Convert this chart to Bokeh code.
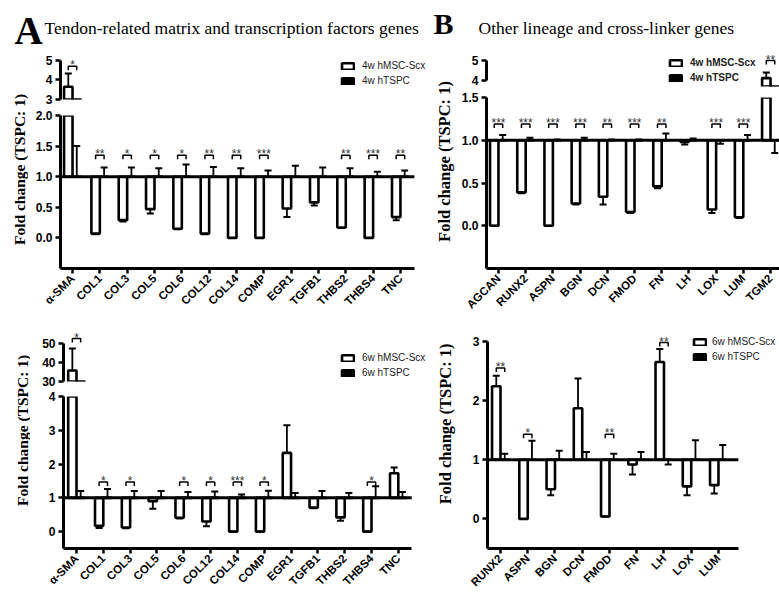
import math
from bokeh.plotting import figure
from bokeh.layouts import row, column
from bokeh.models import (ColumnDataSource, Range1d, FixedTicker, Legend,
                          LegendItem, NumeralTickFormatter)
from bokeh.transform import dodge
from bokeh.core.properties import value
from bokeh.embed import file_html
from bokeh.resources import INLINE

# ---------------- data ----------------
A_genes = ["α-SMA", "COL1", "COL3", "COL5", "COL6", "COL12", "COL14", "COMP",
           "EGR1", "TGFB1", "THBS2", "THBS4", "TNC"]

# 4 weeks, panel A
A4_scx = [3.65, 0.07, 0.29, 0.47, 0.15, 0.07, 0.0, 0.0, 0.48, 0.58, 0.17, 0.0, 0.34]
A4_scx_err = [0.68, 0.01, 0.02, 0.07, 0.01, 0.01, 0.0, 0.0, 0.14, 0.05, 0.01, 0.0, 0.05]
A4_tspc = [1.0, 1.0, 1.0, 1.0, 1.0, 1.0, 1.0, 1.0, 1.0, 1.0, 1.0, 1.0, 1.0]
A4_tspc_err = [0.5, 0.15, 0.15, 0.14, 0.2, 0.16, 0.14, 0.1, 0.18, 0.15, 0.14, 0.08, 0.1]
A4_sig = ["*", "**", "*", "*", "*", "**", "**", "***", "", "", "**", "***", "**"]
A4_sig_y = [4.7, 1.35, 1.35, 1.35, 1.35, 1.35, 1.35, 1.35, None, None, 1.35, 1.35, 1.35]

# 6 weeks, panel A
A6_scx = [35.8, 0.17, 0.12, 0.9, 0.41, 0.3, 0.0, 0.0, 2.33, 0.71, 0.42, 0.0, 1.73]
A6_scx_err = [11.6, 0.06, 0.02, 0.22, 0.02, 0.14, 0.0, 0.0, 0.82, 0.02, 0.1, 0.0, 0.17]
A6_tspc = [1.0, 1.0, 1.0, 1.0, 1.0, 1.0, 1.0, 1.0, 1.0, 1.0, 1.0, 1.0, 1.0]
A6_tspc_err = [0.2, 0.26, 0.2, 0.2, 0.17, 0.19, 0.1, 0.21, 0.14, 0.2, 0.14, 0.34, 0.17]
A6_sig = ["*", "*", "*", "", "*", "*", "***", "*", "", "", "", "*", ""]
A6_sig_y = [52.6, 1.47, 1.47, None, 1.47, 1.47, 1.47, 1.47, None, None, None, 1.47, None]

# 4 weeks, panel B
B4_genes = ["AGCAN", "RUNX2", "ASPN", "BGN", "DCN", "FMOD", "FN", "LH", "LOX", "LUM", "TGM2"]
B4_scx = [0.0, 0.39, 0.0, 0.26, 0.34, 0.16, 0.46, 0.98, 0.19, 0.1, 4.12]
B4_scx_err = [0.0, 0.01, 0.0, 0.01, 0.09, 0.01, 0.02, 0.03, 0.04, 0.01, 0.28]
B4_tspc = [1.0, 1.0, 1.0, 1.0, 1.0, 1.0, 1.0, 1.0, 1.0, 1.0, 1.0]
B4_tspc_err = [0.06, 0.03, 0.01, 0.03, 0.01, 0.01, 0.08, 0.02, -0.04, 0.06, -0.15]
B4_sig = ["***", "***", "***", "***", "**", "***", "**", "", "***", "***", "**"]
B4_sig_y = [1.19, 1.19, 1.19, 1.19, 1.19, 1.19, 1.19, None, 1.19, 1.19, 5.0]

# 6 weeks, panel B
B6_genes = ["RUNX2", "ASPN", "BGN", "DCN", "FMOD", "FN", "LH", "LOX", "LUM"]
B6_scx = [2.24, 0.0, 0.5, 1.87, 0.04, 0.92, 2.65, 0.55, 0.57]
B6_scx_err = [0.18, 0.0, 0.1, 0.5, 0.0, 0.17, 0.22, 0.15, 0.14]
B6_tspc = [1.0, 1.0, 1.0, 1.0, 1.0, 1.0, 1.0, 1.0, 1.0]
B6_tspc_err = [0.1, 0.32, 0.15, 0.13, 0.1, 0.13, -0.08, 0.33, 0.25]
B6_sig = ["**", "*", "", "", "**", "", "**", "", ""]
B6_sig_y = [2.55, 1.43, None, None, 1.43, None, 2.98, None, None]

# ---------------- style helpers ----------------
BW = 0.31
SANS = "Liberation Sans"
SERIF = "Liberation Serif"


def base_fig(width, height, xr, yr, borders, xaxis):
    l, r, t, b = borders
    p = figure(width=width, height=height, x_range=Range1d(*xr), y_range=Range1d(*yr),
               toolbar_location=None, output_backend="svg",
               x_axis_location="below" if xaxis else None, title=None)
    p.min_border_left = l
    p.min_border_right = r
    p.min_border_top = t
    p.min_border_bottom = b
    p.outline_line_color = None
    p.grid.visible = False
    p.background_fill_color = "white"
    p.border_fill_color = "white"
    return p


def style_axis(ax, size):
    ax.axis_line_width = 3
    ax.axis_line_color = "black"
    ax.major_tick_line_width = 2.5
    ax.major_tick_line_color = "black"
    ax.major_tick_out = 5
    ax.major_tick_in = 0
    ax.minor_tick_line_color = None
    ax.major_label_text_font = SANS
    ax.major_label_text_font_style = "bold"
    ax.major_label_text_font_size = size
    ax.major_label_text_color = "black"
    ax.major_label_standoff = 3


def setup_xaxis(p, genes, bounds):
    ax = p.xaxis[0]
    ax.ticker = FixedTicker(ticks=list(range(len(genes))))
    ax.major_label_overrides = {i: g for i, g in enumerate(genes)}
    ax.major_label_orientation = math.pi / 4
    ax.bounds = bounds
    style_axis(ax, "11.5px")
    ax.major_label_standoff = 3


def setup_yaxis(p, ticks, fmt=None, bounds=None):
    ax = p.yaxis[0]
    ax.ticker = FixedTicker(ticks=ticks)
    if fmt:
        ax.formatter = NumeralTickFormatter(format=fmt)
    if bounds:
        ax.bounds = bounds
    style_axis(ax, "12px")


def draw_series(p, genes, scx, scx_err, tspc, tspc_err, sig, sig_y, ppu, lo, hi,
                baseline=None):
    n = len(genes)
    scx_end = [v - e if v < 1 else v + e for v, e in zip(scx, scx_err)]
    tspc_end = [t + e for t, e in zip(tspc, tspc_err)]
    keep = [i for i in range(n) if max(scx[i], scx_end[i], tspc_end[i]) > lo]
    src = ColumnDataSource(dict(x=keep,
                                scx=[scx[i] for i in keep],
                                scx_end=[scx_end[i] for i in keep],
                                tspc=[tspc[i] for i in keep],
                                tspc_end=[tspc_end[i] for i in keep]))
    xa = dodge("x", -BW / 2)
    xb = dodge("x", BW / 2)
    r1 = p.vbar(x=xa, width=BW, bottom=1, top="scx", source=src,
                fill_color="white", line_color="black", line_width=2.6)
    r2 = p.vbar(x=xb, width=BW, bottom=1, top="tspc", source=src,
                fill_color="black", line_color="black", line_width=2.6)
    p.segment(x0=xa, y0="scx", x1=xa, y1="scx_end", source=src,
              line_color="black", line_width=1.8)
    p.scatter(x=xa, y="scx_end", source=src, marker="dash", size=7,
              line_color="black", line_width=2)
    p.segment(x0=xb, y0="tspc", x1=xb, y1="tspc_end", source=src,
              line_color="black", line_width=1.8)
    p.scatter(x=xb, y="tspc_end", source=src, marker="dash", size=7,
              line_color="black", line_width=2)
    if baseline is not None:
        p.segment(x0=[baseline[0]], y0=[1], x1=[baseline[1]], y1=[1],
                  line_color="black", line_width=3)
    # significance brackets
    bx = [i for i, s in enumerate(sig) if s and lo < sig_y[i] < hi]
    if bx:
        by = [sig_y[i] for i in bx]
        d = 4.0 / ppu
        xs = [[i - BW / 2, i - BW / 2, i + BW / 2, i + BW / 2] for i in bx]
        ys = [[h - d, h, h, h - d] for h in by]
        p.multi_line(xs=xs, ys=ys, line_color="black", line_width=1.5)
        p.text(x=bx, y=by, text=[sig[i] for i in bx], text_align="center",
               text_baseline="bottom", y_offset=6, text_color="#333333",
               text_font=value(SANS), text_font_size="12px")
    return r1, r2


def add_legend(p, r1, r2, labels, loc, size, style, standoff=7):
    leg = Legend(items=[LegendItem(label=labels[0], renderers=[r1]),
                        LegendItem(label=labels[1], renderers=[r2])],
                 location=loc, orientation="vertical",
                 glyph_width=15, glyph_height=8, label_standoff=standoff,
                 label_text_font=SANS, label_text_font_size=size,
                 label_text_font_style=style, label_text_color="#222222",
                 label_height=10, spacing=4, padding=0, margin=0,
                 border_line_color=None, background_fill_alpha=0)
    p.add_layout(leg)


def blank_fig(w, h, xr, yr):
    p = figure(width=w, height=h, x_range=Range1d(*xr), y_range=Range1d(*yr),
               toolbar_location=None, output_backend="svg", title=None,
               x_axis_location=None, y_axis_location=None)
    p.min_border_left = p.min_border_right = p.min_border_top = p.min_border_bottom = 0
    p.outline_line_color = None
    p.grid.visible = False
    return p


def label_fig(w, h, cx, cy, size):
    p = blank_fig(w, h, (0, w), (h, 0))
    p.text(x=[cx], y=[cy], text=["Fold change (TSPC: 1)"], angle=math.pi / 2,
           text_align="center", text_baseline="middle", text_font=value(SERIF),
           text_font_style="bold", text_font_size=size, text_color="black")
    return p


# ---------------- header (y measured downward, text bottoms) ----------------
hdr = blank_fig(779, 52, (0, 779), (52, 0))
hdr.text(x=[14], y=[51], text=["A"], text_font=value(SERIF), text_font_style="bold",
         text_font_size="39px", text_color="black", text_baseline="bottom")
hdr.text(x=[44], y=[37.8], text=["Tendon-related matrix and transcription factors genes"],
         text_font=value(SERIF), text_font_size="17.5px", text_color="black",
         text_baseline="bottom")
hdr.text(x=[433], y=[39.5], text=["B"], text_font=value(SERIF), text_font_style="bold",
         text_font_size="30px", text_color="black", text_baseline="bottom")
hdr.text(x=[478], y=[37.8], text=["Other lineage and cross-linker genes"],
         text_font=value(SERIF), text_font_size="17.5px", text_color="black",
         text_baseline="bottom")

# ---------------- panel A, 4 weeks ----------------
axA4 = (-0.44, 12.51)
xrA4 = (-0.44, 13.1)
a4s = base_fig(402, 55, xrA4, (3, 5.41), (32, 0, 0, 8), False)
setup_yaxis(a4s, [3, 4, 5], bounds=(3, 5))
r1, r2 = draw_series(a4s, A_genes, A4_scx, A4_scx_err, A4_tspc, A4_tspc_err,
                     A4_sig, A4_sig_y, 19.5, 3, 5.41)
add_legend(a4s, r1, r2, ["4w hMSC-Scx", "4w hTSPC"], (280, 13), "10px", "normal")
a4m = base_fig(402, 218, xrA4, (-0.5, 2.0), (32, 0, 8, 57), True)
setup_yaxis(a4m, [0, 0.5, 1, 1.5, 2], fmt="0.0")
setup_xaxis(a4m, A_genes, axA4)
draw_series(a4m, A_genes, A4_scx, A4_scx_err, A4_tspc, A4_tspc_err,
            A4_sig, A4_sig_y, 61.2, -0.5, 2.0, baseline=axA4)
a4l = label_fig(28, 273, 18.5, 117, "15.5px")

# ---------------- panel B, 4 weeks ----------------
axB4 = (-0.44, 10.33)
xrB4 = (-0.44, 10.33)
b4s = base_fig(324, 40, xrB4, (3.7, 5.4), (31, 0, 0, 6), False)
setup_yaxis(b4s, [4, 5], bounds=(4, 5))
r1, r2 = draw_series(b4s, B4_genes, B4_scx, B4_scx_err, B4_tspc, B4_tspc_err,
                     B4_sig, B4_sig_y, 20, 3.7, 5.4)
add_legend(b4s, r1, r2, ["4w hMSC-Scx", "4w hTSPC"], (182, 3), "10px", "bold")
b4m = base_fig(324, 233, xrB4, (-0.5, 1.5), (31, 0, 5, 57), True)
setup_yaxis(b4m, [0, 0.5, 1, 1.5], fmt="0.0")
setup_xaxis(b4m, B4_genes, axB4)
draw_series(b4m, B4_genes, B4_scx, B4_scx_err, B4_tspc, B4_tspc_err,
            B4_sig, B4_sig_y, 85.5, -0.5, 1.5, baseline=axB4)
b4l = label_fig(25, 273, 14, 109, "16.5px")

# ---------------- panel A, 6 weeks ----------------
axA6 = (-0.485, 12.5)
xrA6 = (-0.485, 13.2)
a6s = base_fig(400, 64, xrA6, (30, 59.47), (33, 0, 0, 8), False)
setup_yaxis(a6s, [30, 40, 50], bounds=(30, 50))
r1, r2 = draw_series(a6s, A_genes, A6_scx, A6_scx_err, A6_tspc, A6_tspc_err,
                     A6_sig, A6_sig_y, 1.9, 30, 59.47)
add_legend(a6s, r1, r2, ["6w hMSC-Scx", "6w hTSPC"], (277, 3), "10px", "normal")
a6m = base_fig(400, 206, xrA6, (-0.5, 4.0), (33, 0, 7, 47), True)
setup_yaxis(a6m, [0, 1, 2, 3, 4], fmt="0")
setup_xaxis(a6m, A_genes, axA6)
draw_series(a6m, A_genes, A6_scx, A6_scx_err, A6_tspc, A6_tspc_err,
            A6_sig, A6_sig_y, 33.8, -0.5, 4.0, baseline=axA6)
a6l = label_fig(30, 270, 22, 125, "15.5px")

# ---------------- panel B, 6 weeks ----------------
axB6 = (-0.477, 8.73)
xrB6 = (-0.477, 10.24)
b6m = base_fig(322, 270, xrB6, (-0.5, 3.2167), (30, 0, 3, 46), True)
setup_yaxis(b6m, [0, 1, 2, 3], fmt="0", bounds=(-0.5, 3))
setup_xaxis(b6m, B6_genes, axB6)
r1, r2 = draw_series(b6m, B6_genes, B6_scx, B6_scx_err, B6_tspc, B6_tspc_err,
                     B6_sig, B6_sig_y, 60, -0.5, 3.2167, baseline=axB6)
add_legend(b6m, r1, r2, ["6w hMSC-Scx", "6w hTSPC"], (205, 186), "10px", "normal",
           standoff=5)
b6l = label_fig(27, 270, 15, 117, "16.5px")

layout = column(
    hdr,
    row(a4l, column(a4s, a4m), b4l, column(b4s, b4m)),
    row(a6l, column(a6s, a6m), b6l, b6m),
)

open("out.html", "w").write(file_html(layout, INLINE))
